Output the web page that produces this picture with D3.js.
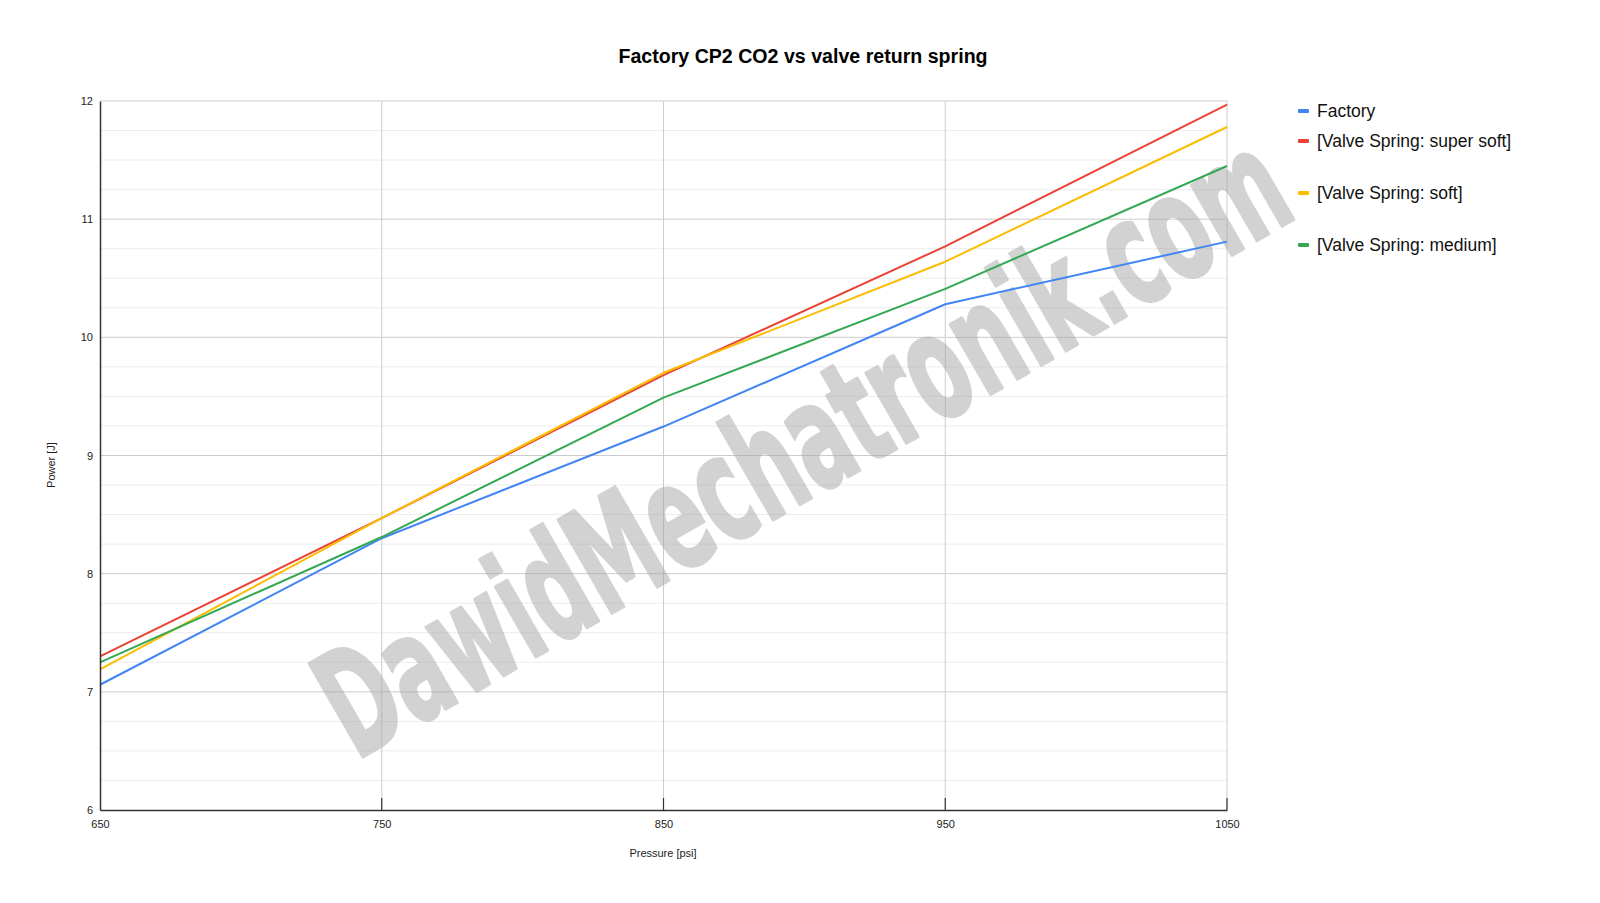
<!DOCTYPE html>
<html><head><meta charset="utf-8">
<script src="https://cdn.jsdelivr.net/npm/d3@7"></script>
<style>
html,body{margin:0;padding:0;background:#fff;}
svg{display:block;font-family:"Liberation Sans",Arial,sans-serif;}
</style></head>
<body>
<svg id="chart" width="1600" height="903"></svg>
<script>
const pressures = [650, 750, 850, 950, 1050];
const factory = [7.06, 8.30, 9.245, 10.28, 10.81];
const superSoft = [7.30, 8.47, 9.68, 10.77, 11.97];
const soft = [7.19, 8.47, 9.70, 10.64, 11.78];
const medium = [7.25, 8.31, 9.49, 10.41, 11.45];
const seriesNames = ["Factory", "[Valve Spring: super soft]", "[Valve Spring: soft]", "[Valve Spring: medium]"];
const seriesColors = ["#4285f4", "#ea4335", "#fbbc04", "#34a853"];
const yTicks = [6, 7, 8, 9, 10, 11, 12];
const xTicks = [650, 750, 850, 950, 1050];

const series = [factory, superSoft, soft, medium];
const svg = d3.select("#chart");
const m = {left:100, right:1227, top:101, bottom:810};
const x = d3.scaleLinear().domain([650,1050]).range([m.left, m.right]);
const y = d3.scaleLinear().domain([6,12]).range([m.bottom, m.top]);

// minor grid
const minor = d3.range(6, 12.001, 0.25).filter(v => Math.abs(v - Math.round(v)) > 0.01);
svg.append("g").selectAll("line").data(minor).join("line")
  .attr("x1", m.left).attr("x2", m.right)
  .attr("y1", d=>y(d)).attr("y2", d=>y(d))
  .attr("stroke", "#ececec").attr("stroke-width", 1);
// major horizontal grid
svg.append("g").selectAll("line").data(yTicks.slice(1)).join("line")
  .attr("x1", m.left).attr("x2", m.right)
  .attr("y1", d=>y(d)).attr("y2", d=>y(d))
  .attr("stroke", "#cccccc").attr("stroke-width", 1);
// vertical grid
svg.append("g").selectAll("line").data(xTicks.slice(1)).join("line")
  .attr("x1", d=>x(d)).attr("x2", d=>x(d))
  .attr("y1", m.top).attr("y2", m.bottom)
  .attr("stroke", "#cccccc").attr("stroke-width", 1);

// watermark
svg.append("g").attr("opacity", 0.5)
  .append("text")
  .attr("transform", `translate(356,761) rotate(-30)`)
  .attr("font-family", "'DejaVu Sans Condensed','Liberation Sans Narrow',sans-serif")
  .attr("font-weight", "bold")
  .attr("font-size", 148)
  .attr("textLength", 1090)
  .attr("lengthAdjust", "spacingAndGlyphs")
  .attr("fill", "#a6a6a6").attr("stroke", "#a6a6a6").attr("stroke-width", 3)
  .attr("stroke-linejoin", "round")
  .text("DawidMechatronik.com");

// lines
const line = d3.line().x((d,i)=>x(pressures[i])).y(d=>y(d));
svg.append("g").selectAll("path").data(series).join("path")
  .attr("d", d=>line(d))
  .attr("fill", "none")
  .attr("stroke", (d,i)=>seriesColors[i])
  .attr("stroke-width", 2)
  .attr("stroke-linejoin", "round");

// axes
const xAxis = d3.axisBottom(x).tickValues(xTicks).tickSize(0).tickPadding(10).tickFormat(d3.format("d"));
const gx = svg.append("g").attr("transform", `translate(0,${m.bottom})`).call(xAxis);
gx.select(".domain").attr("stroke", "#333").attr("stroke-width", 1.5);
gx.selectAll("text").attr("font-size", 11).attr("fill", "#222").attr("font-family", "'Liberation Sans',Arial,sans-serif");
svg.append("g").selectAll("line").data(xTicks.slice(1)).join("line")
  .attr("x1", d=>x(d)).attr("x2", d=>x(d))
  .attr("y1", m.bottom - 12).attr("y2", m.bottom)
  .attr("stroke", "#333").attr("stroke-width", 1.2);

const yAxis = d3.axisLeft(y).tickValues(yTicks).tickSize(0).tickPadding(7).tickFormat(d3.format("d"));
const gy = svg.append("g").attr("transform", `translate(${m.left},0)`).call(yAxis);
gy.select(".domain").attr("stroke", "#333").attr("stroke-width", 1.5);
gy.selectAll("text").attr("font-size", 11).attr("fill", "#222").attr("font-family", "'Liberation Sans',Arial,sans-serif");

// titles
svg.append("text").attr("x", 803).attr("y", 63).attr("text-anchor", "middle")
  .attr("font-size", 19.6).attr("font-weight", "bold").attr("fill", "#000")
  .text("Factory CP2 CO2 vs valve return spring");
svg.append("text").attr("x", 663).attr("y", 857).attr("text-anchor", "middle")
  .attr("font-size", 11).attr("fill", "#222").text("Pressure [psi]");
svg.append("text").attr("transform", "translate(55,465) rotate(-90)").attr("text-anchor", "middle")
  .attr("font-size", 11).attr("fill", "#222").text("Power [J]");

// legend
const legY = [111, 141, 193, 245];
const leg = svg.append("g").selectAll("g").data(seriesNames).join("g")
  .attr("transform", (d,i)=>`translate(1298,${legY[i]})`);
leg.append("rect").attr("x", 0).attr("y", -2).attr("width", 11).attr("height", 4).attr("rx", 1)
  .attr("fill", (d,i)=>seriesColors[i]);
leg.append("text").attr("x", 19).attr("y", 6).attr("font-size", 17.5).attr("fill", "#111").text(d=>d);
</script>
</body></html>
